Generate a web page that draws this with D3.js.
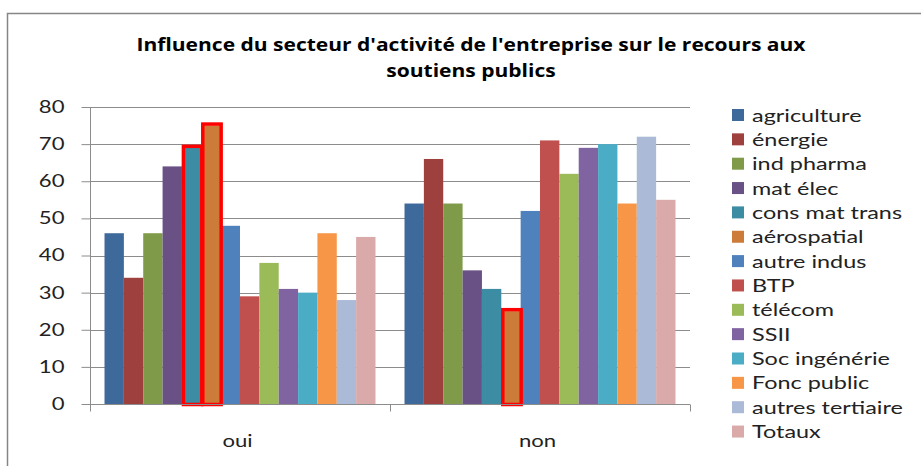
<!DOCTYPE html>
<html>
<head>
<meta charset="utf-8">
<script src="https://cdn.jsdelivr.net/npm/d3@7"></script>
<style>
  body { margin: 0; background: #fff; }
  svg { display: block; }
</style>
</head>
<body>
<script>
// Chart values
var groups = ['oui', 'non'];
var sectors = ['agriculture', 'énergie', 'ind pharma', 'mat élec', 'cons mat trans', 'aérospatial',
  'autre indus', 'BTP', 'télécom', 'SSII', 'Soc ingénérie', 'Fonc public', 'autres tertiaire', 'Totaux'];
var ouiValues = [46, 34, 46, 64, 69, 75, 48, 29, 38, 31, 30, 46, 28, 45];
var nonValues = [54, 66, 54, 36, 31, 25, 52, 71, 62, 69, 70, 54, 72, 55];
var yTicks = [0, 10, 20, 30, 40, 50, 60, 70, 80];
// bars outlined in red in the original
var highlighted = [['oui', 'cons mat trans'], ['oui', 'aérospatial'], ['non', 'aérospatial']];

var colors = ['#3E6A9B', '#9E413E', '#7F9A48', '#695185', '#3C8DA3', '#CC7B38',
  '#4F81BD', '#C0504D', '#9BBB59', '#8064A2', '#4BACC6', '#F79646', '#AABAD7', '#D9AAA9'];

var width = 921, height = 466;
var plot = {left: 90, right: 690, top: 107, bottom: 404};
var stretch = 1.3; // the original picture is widened horizontally

var svg = d3.select('body').append('svg')
  .attr('width', width)
  .attr('height', height);

// widen text glyphs like the original
function widen(sel, factor) {
  sel.each(function() {
    var w = this.getComputedTextLength();
    d3.select(this).attr('textLength', w * factor).attr('lengthAdjust', 'spacingAndGlyphs');
  });
}

// outer chart frame
svg.append('path')
  .attr('d', 'M7.5,' + height + 'V13.5H' + width)
  .attr('fill', 'none')
  .attr('stroke', '#868686')
  .attr('stroke-width', 1.5);

// title
var titleLines = ["Influence du secteur d'activité de l'entreprise sur le recours aux", 'soutiens publics'];
var title = svg.append('g').selectAll('text')
  .data(titleLines)
  .enter().append('text')
  .attr('x', 471)
  .attr('y', function(d, i) { return 51 + i * 26; })
  .attr('text-anchor', 'middle')
  .style('font-family', '"Open Sans", sans-serif')
  .style('font-weight', 'bold')
  .style('font-size', '18px')
  .attr('fill', '#000')
  .text(function(d) { return d; });
var titleFactor = 669 / title.node().getComputedTextLength();
widen(title, titleFactor);

var x0 = d3.scaleBand().domain(groups).range([plot.left, plot.right]).paddingInner(0).paddingOuter(0);
var x1 = d3.scaleBand().domain(sectors).range([0, x0.bandwidth()]).paddingOuter(0.75).paddingInner(0);
var y = d3.scaleLinear().domain([0, 80]).range([plot.bottom, plot.top]);

// gridlines
svg.append('g').selectAll('line')
  .data(yTicks.filter(function(d) { return d > 0; }))
  .enter().append('line')
  .attr('x1', plot.left).attr('x2', plot.right)
  .attr('y1', function(d) { return Math.round(y(d)) + 0.5; })
  .attr('y2', function(d) { return Math.round(y(d)) + 0.5; })
  .attr('stroke', '#8c8c8c')
  .attr('stroke-width', 1);

// bars
var rows = groups.map(function(g, gi) {
  var vals = gi === 0 ? ouiValues : nonValues;
  return sectors.map(function(s, si) {
    return {group: g, sector: s, value: vals[si], color: colors[si]};
  });
});

var gGroups = svg.append('g').selectAll('g')
  .data(rows)
  .enter().append('g')
  .attr('transform', function(d, i) { return 'translate(' + x0(groups[i]) + ',0)'; });

gGroups.selectAll('rect')
  .data(function(d) { return d; })
  .enter().append('rect')
  .attr('x', function(d) { return x1(d.sector); })
  .attr('width', x1.bandwidth())
  .attr('y', function(d) { return y(d.value); })
  .attr('height', function(d) { return y(0) - y(d.value); })
  .attr('fill', function(d) { return d.color; });

// red outlines
function isHighlighted(d) {
  return highlighted.some(function(h) { return h[0] === d.group && h[1] === d.sector; });
}
gGroups.selectAll('rect.hl')
  .data(function(d) { return d.filter(isHighlighted); })
  .enter().append('rect')
  .attr('class', 'hl')
  .attr('x', function(d) { return x1(d.sector) + 1.5; })
  .attr('width', x1.bandwidth() - 1)
  .attr('y', function(d) { return y(d.value) - 1.5; })
  .attr('height', function(d) { return y(0) - y(d.value) + 2; })
  .attr('fill', 'none')
  .attr('stroke', '#ff0000')
  .attr('stroke-width', 3.5);

// y axis
var yAxis = svg.append('g')
  .attr('transform', 'translate(' + (plot.left + 0.5) + ',0)')
  .call(d3.axisLeft(y).tickValues(yTicks).tickSize(9).tickPadding(17));
yAxis.select('.domain').attr('stroke', '#8c8c8c').attr('d', 'M0,' + plot.top + 'V' + (plot.bottom + 0.5));
yAxis.selectAll('.tick line').attr('stroke', '#8c8c8c');
yAxis.selectAll('.tick text')
  .style('font-family', 'Lato, sans-serif')
  .style('font-size', '17px')
  .attr('fill', '#222')
  .call(widen, stretch);

// x axis
var xAxisG = svg.append('g')
  .attr('transform', 'translate(0,' + (plot.bottom + 0.5) + ')');
xAxisG.append('line')
  .attr('x1', plot.left).attr('x2', plot.right)
  .attr('stroke', '#8c8c8c');
xAxisG.selectAll('line.sep')
  .data([plot.left, x0('non'), plot.right])
  .enter().append('line')
  .attr('class', 'sep')
  .attr('x1', function(d) { return d + 0.5; }).attr('x2', function(d) { return d + 0.5; })
  .attr('y1', 0).attr('y2', 7)
  .attr('stroke', '#8c8c8c');
xAxisG.selectAll('text')
  .data(groups)
  .enter().append('text')
  .attr('x', function(d) { return x0(d) + x0.bandwidth() / 2 - 2.5; })
  .attr('y', 42)
  .attr('text-anchor', 'middle')
  .style('font-family', 'Lato, sans-serif')
  .style('font-size', '17px')
  .attr('fill', '#222')
  .text(function(d) { return d; })
  .call(widen, stretch);

// legend
var legend = svg.append('g').selectAll('g')
  .data(sectors)
  .enter().append('g')
  .attr('transform', function(d, i) { return 'translate(732,' + (115 + i * 24.35) + ')'; });
legend.append('rect')
  .attr('x', 0).attr('y', -6)
  .attr('width', 12).attr('height', 12)
  .attr('fill', function(d, i) { return colors[i]; });
legend.append('text')
  .attr('x', 20).attr('y', 6.5)
  .style('font-family', 'Lato, sans-serif')
  .style('font-size', '18px')
  .attr('fill', '#222')
  .text(function(d) { return d; })
  .call(widen, stretch);
</script>
</body>
</html>
